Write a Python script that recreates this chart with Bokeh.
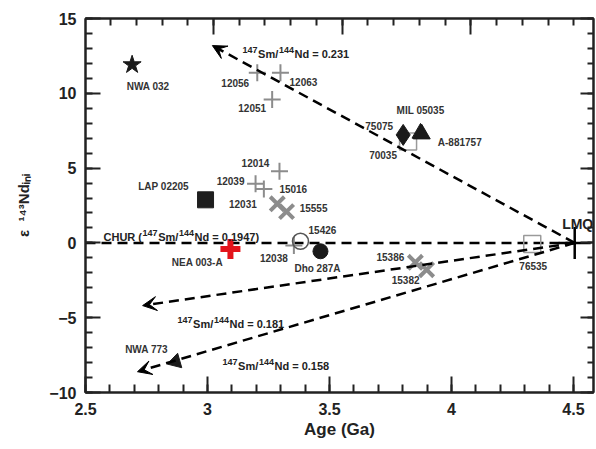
import numpy as np
from bokeh.plotting import figure
from bokeh.models import (ColumnDataSource, LinearAxis, Range1d, SingleIntervalTicker,
                          Label, Arrow, VeeHead, CustomJSTickFormatter)
from bokeh.core.properties import value
from bokeh.embed import file_html
from bokeh.resources import INLINE

# ---------------- data ----------------
# Apollo 12 basalts (grey plus)
a12_names = ["12056", "12063", "12051", "12014", "12039", "12031", "12038"]
a12_age = [3.204, 3.299, 3.265, 3.295, 3.197, 3.231, 3.354]
a12_eps = [11.37, 11.37, 9.59, 4.79, 3.95, 3.61, -0.18]

# Apollo 15 basalts (grey x)
a15_names = ["15016", "15555", "15386", "15382"]
a15_age = [3.286, 3.324, 3.852, 3.898]
a15_eps = [2.61, 2.09, -1.30, -1.79]

# open squares
sq_names = ["70035", "76535"]
sq_age = [3.822, 4.331]
sq_eps = [6.78, -0.07]

# single samples
star_names, star_age, star_eps = ["NWA 032"], [2.691], [11.91]
dia_names, dia_age, dia_eps = ["75075"], [3.802], [7.22]
tri_names, tri_age, tri_eps = ["MIL 05035", "A-881757"], [3.873, 3.878], [7.33, 7.28]
bsq_names, bsq_age, bsq_eps = ["LAP 02205"], [2.992], [2.88]
red_names, red_age, red_eps = ["NEA 003-A"], [3.094], [-0.40]
ocirc_names, ocirc_age, ocirc_eps = ["15426"], [3.381], [0.11]
bcirc_names, bcirc_age, bcirc_eps = ["Dho 287A"], [3.463], [-0.56]
ltri_names, ltri_age, ltri_eps = ["NWA 773"], [2.869], [-7.94]
lmq_name, lmq_age, lmq_eps = "LMQ", 4.505, 0.0

# evolution lines from LMQ (147Sm/144Nd ratio, arrow tips)
ratio_labels = ["0.231", "0.181", "0.158"]
tip_age = [3.020, 2.734, 2.713]
tip_eps = [13.19, -4.19, -8.61]
chur_ratio = "0.1947"
chur_eps = 0.0

x_ticks_major = 0.5
y_ticks_major = 5
NB = "\u00a0"
y_title = "\u03b5" + NB * 2 + "\u00b9\u2074\u00b3Nd\u1d62\u2099\u1d62"
x_title = "Age (Ga)"

# label offsets (pixels: right, down) -- styling only
label_offsets = {
    "NWA 032": (16, 22), "12056": (-22, 10), "12063": (23, 9), "12051": (-20, 9),
    "75075": (-24, -9), "MIL 05035": (0, -23), "A-881757": (38, 9), "70035": (-25, 14),
    "12014": (-24, -8), "12039": (-25, -3), "12031": (-21, 15), "15016": (16, -15),
    "15555": (27, -4), "LAP 02205": (-42, -13), "NEA 003-A": (-33, 14),
    "15426": (22, -11), "12038": (-20, 12), "Dho 287A": (-3, 17), "15386": (-25, -5),
    "15382": (-21, 10), "76535": (1, 22), "NWA 773": (-29, -12),
}

# ---------------- figure ----------------
W, H = 596, 449
FL, FR, FT, FB = 85, 3, 18, 57
XR = (2.5, 4.582)
YR = (-10, 15)
FONT = "Liberation Sans"
INK = "#222222"
GREY = "#8c8c8c"

p = figure(width=W, height=H, x_range=Range1d(*XR), y_range=Range1d(*YR),
           output_backend="svg", toolbar_location=None,
           min_border_left=FL, min_border_right=FR, min_border_top=FT, min_border_bottom=FB,
           background_fill_color="white", border_fill_color="white")
p.grid.visible = False
p.outline_line_color = INK
p.outline_line_width = 2

fw = W - FL - FR
fh = H - FT - FB
sx = fw / (XR[1] - XR[0])
sy = fh / (YR[1] - YR[0])


def dx(px):
    return XR[0] + (px - FL) / sx


def dy(py):
    return YR[1] - (py - FT) / sy


def style_axis(ax, show_labels=True, major_in=15, minor_in=7):
    ax.axis_line_color = INK
    ax.axis_line_width = 2
    ax.major_tick_line_color = INK
    ax.minor_tick_line_color = INK
    ax.major_tick_line_width = 2
    ax.minor_tick_line_width = 2
    ax.major_tick_in = major_in
    ax.major_tick_out = 0
    ax.minor_tick_in = minor_in
    ax.minor_tick_out = 0
    if show_labels:
        ax.major_label_text_font = FONT
        ax.major_label_text_font_style = "bold"
        ax.major_label_text_font_size = "16px"
        ax.major_label_text_color = INK
    else:
        ax.formatter = CustomJSTickFormatter(code="return ''")
        ax.major_label_standoff = 0


xa = p.xaxis[0]
xa.ticker = SingleIntervalTicker(interval=x_ticks_major, num_minor_ticks=5)
style_axis(xa, major_in=16, minor_in=8)
xa.major_label_standoff = 10
xa.axis_label = x_title
xa.axis_label_text_font = FONT
xa.axis_label_text_font_style = "bold"
xa.axis_label_text_font_size = "17px"
xa.axis_label_text_color = INK
xa.axis_label_standoff = 2

ya = p.yaxis[0]
ya.ticker = SingleIntervalTicker(interval=y_ticks_major, num_minor_ticks=5)
style_axis(ya)
ya.major_label_standoff = 9
ya.axis_label = y_title
ya.axis_label_text_font = FONT
ya.axis_label_text_font_style = "bold"
ya.axis_label_text_font_size = "15px"
ya.axis_label_text_color = INK
ya.axis_label_standoff = 14

# top axis (its own scale, as in the original)
top_start = 3.0 - (213 - FL) / 257.4
p.extra_x_ranges = {"top": Range1d(top_start, top_start + fw / 257.4)}
ta = LinearAxis(x_range_name="top",
                ticker=SingleIntervalTicker(interval=x_ticks_major, num_minor_ticks=5))
style_axis(ta, show_labels=False, major_in=16, minor_in=7)
p.add_layout(ta, "above")

ra = LinearAxis(ticker=SingleIntervalTicker(interval=y_ticks_major, num_minor_ticks=5))
style_axis(ra, show_labels=False, major_in=13, minor_in=6)
p.add_layout(ra, "right")

# ---------------- evolution lines ----------------
p.line(x=[XR[0], lmq_age], y=[chur_eps, chur_eps], line_color="black",
       line_width=2.5, line_dash="10 6")
arr_src = ColumnDataSource(dict(xs=[lmq_age] * 3, ys=[lmq_eps] * 3, xe=tip_age, ye=tip_eps))
p.add_layout(Arrow(end=VeeHead(size=14, fill_color="black", line_color="black", line_width=1),
                   x_start="xs", y_start="ys", x_end="xe", y_end="ye", source=arr_src,
                   line_color="black", line_width=2.5, line_dash="10 6"))

# ---------------- markers ----------------
p.scatter(a12_age, a12_eps, marker="cross", size=17, line_color=GREY, line_width=2)
p.scatter(a15_age, a15_eps, marker="x", size=20, line_color=GREY, line_width=4)
p.scatter(sq_age, sq_eps, marker="square", size=17, fill_color=None,
          line_color="#9a9a9a", line_width=1.5)
p.scatter(star_age, star_eps, marker="star", size=19, fill_color="#1a1a1a", line_color="#1a1a1a")
p.scatter(dia_age, dia_eps, marker="diamond", size=21, fill_color="#1a1a1a", line_color="#1a1a1a")
p.scatter(tri_age, tri_eps, marker="triangle", size=17, fill_color="#1a1a1a", line_color="#1a1a1a")
p.scatter(bsq_age, bsq_eps, marker="square", size=16, fill_color="#1e1e1e", line_color="#1e1e1e")
p.scatter(red_age, red_eps, marker="cross", size=20, line_color="#e3141b", line_width=6)
p.scatter(ocirc_age, ocirc_eps, marker="circle", size=16, fill_color=None,
          line_color="#555555", line_width=1.5)
p.scatter(bcirc_age, bcirc_eps, marker="circle", size=15, fill_color="#1a1a1a", line_color="#1a1a1a")
p.scatter(ltri_age, ltri_eps, marker="triangle", size=15, angle=1.85,
          fill_color="#1a1a1a", line_color="#1a1a1a")
p.scatter([lmq_age], [lmq_eps], marker="cross", size=32, line_color="black", line_width=2.5)

# ---------------- point labels ----------------
all_names = (a12_names + a15_names + sq_names + star_names + dia_names + tri_names +
             bsq_names + red_names + ocirc_names + bcirc_names + ltri_names)
all_age = (a12_age + a15_age + sq_age + star_age + dia_age + tri_age + bsq_age +
           red_age + ocirc_age + bcirc_age + ltri_age)
all_eps = (a12_eps + a15_eps + sq_eps + star_eps + dia_eps + tri_eps + bsq_eps +
           red_eps + ocirc_eps + bcirc_eps + ltri_eps)
lab_src = ColumnDataSource(dict(
    x=all_age, y=all_eps, t=all_names,
    ox=[label_offsets[n][0] for n in all_names],
    oy=[label_offsets[n][1] for n in all_names]))
p.text(x="x", y="y", text="t", x_offset="ox", y_offset="oy", source=lab_src,
       text_font=value(FONT), text_font_style="bold", text_font_size="10px",
       text_align="center", text_baseline="middle", text_color="#333333")
p.text(x=[lmq_age], y=[lmq_eps], text=[lmq_name], x_offset=3, y_offset=-19,
       text_font=value(FONT), text_font_style="bold", text_font_size="14px",
       text_align="center", text_baseline="middle", text_color=INK)

# ---------------- rich ratio labels ----------------
ADV = {".": .278, " ": .278, "=": .584, "/": .278, "(": .333, ")": .333, "S": .667,
       "m": .889, "N": .722, "d": .611, "C": .722, "H": .722, "U": .722, "R": .722,
       "i": .278, "n": .611}


def tw(s, size):
    return sum(ADV.get(c, .556) for c in s) * size


def rich(px, pybase, parts, main=11, sup=9, raise_px=4):
    x = px
    for txt, is_sup in parts:
        size = sup if is_sup else main
        yb = pybase - (raise_px if is_sup else 0)
        p.add_layout(Label(x=dx(x), y=dy(yb), text=txt, text_font=FONT,
                           text_font_style="bold", text_font_size=f"{size}px",
                           text_color=INK, text_align="left", text_baseline="alphabetic"))
        x += tw(txt, size) + 0.6


def ratio_parts(r, prefix="", suffix=""):
    parts = []
    if prefix:
        parts.append((prefix, False))
    parts += [("147", True), ("Sm/", False), ("144", True), ("Nd = " + r + suffix, False)]
    return parts


rich(242, 53, ratio_parts(ratio_labels[0]))
rich(177, 323, ratio_parts(ratio_labels[1]))
rich(222, 365, ratio_parts(ratio_labels[2]))
rich(103, 236, ratio_parts(chur_ratio, prefix="CHUR (", suffix=")"))

open("out.html", "w").write(file_html(p, INLINE))
